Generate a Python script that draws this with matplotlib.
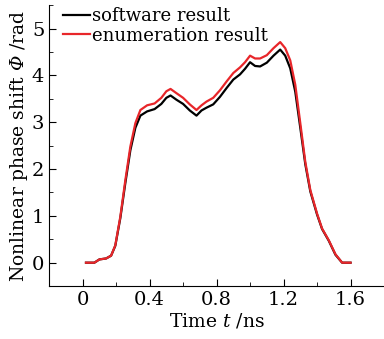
import matplotlib
matplotlib.use("Agg")
import matplotlib.pyplot as plt
from matplotlib.ticker import MultipleLocator

plt.rcParams['font.family'] = ['DejaVu Serif']
# custom mathtext so that a Greek capital can be set in italic (via \mathbf slot)
plt.rcParams['mathtext.fontset'] = 'custom'
plt.rcParams['mathtext.rm'] = 'DejaVu Serif'
plt.rcParams['mathtext.it'] = 'DejaVu Serif:italic'
plt.rcParams['mathtext.bf'] = 'DejaVu Serif:italic'

# time axis (ns)
t = [0.02, 0.07, 0.10, 0.14, 0.17, 0.195, 0.225, 0.255, 0.285, 0.315, 0.345, 0.385,
     0.43, 0.47, 0.50, 0.525, 0.56, 0.60, 0.64, 0.68, 0.71, 0.74, 0.78, 0.82, 0.86,
     0.90, 0.94, 0.97, 1.00, 1.03, 1.06, 1.10, 1.14, 1.18, 1.21, 1.24, 1.27, 1.30,
     1.33, 1.36, 1.40, 1.43, 1.47, 1.51, 1.55, 1.60]

software = [0, 0, 0.07, 0.09, 0.15, 0.36, 0.95, 1.70, 2.40, 2.88, 3.14, 3.23,
            3.28, 3.39, 3.52, 3.57, 3.48, 3.39, 3.25, 3.14, 3.25, 3.31, 3.38, 3.54, 3.73,
            3.91, 4.02, 4.14, 4.28, 4.20, 4.19, 4.27, 4.42, 4.55, 4.42, 4.15, 3.65, 2.88,
            2.10, 1.52, 1.03, 0.72, 0.47, 0.17, 0, 0]

enumeration = [0, 0, 0.07, 0.09, 0.15, 0.37, 0.98, 1.76, 2.48, 2.98, 3.26, 3.36,
               3.40, 3.52, 3.66, 3.71, 3.62, 3.52, 3.38, 3.26, 3.36, 3.44, 3.52, 3.68, 3.87,
               4.05, 4.17, 4.28, 4.42, 4.36, 4.36, 4.43, 4.58, 4.71, 4.58, 4.32, 3.80, 2.98,
               2.15, 1.55, 1.05, 0.73, 0.48, 0.18, 0, 0]

fig = plt.figure(figsize=(3.84, 3.39), dpi=100)
ax = fig.add_axes([0.128, 0.156, 0.872, 0.829])

ax.plot(t, software, color='black', lw=1.6, label='software result')
ax.plot(t, enumeration, color='#e8262a', lw=1.6, label='enumeration result')

ax.set_xlim(-0.2, 1.8)
ax.set_ylim(-0.5, 5.5)
ax.xaxis.set_major_locator(MultipleLocator(0.4))
ax.xaxis.set_minor_locator(MultipleLocator(0.2))
ax.yaxis.set_major_locator(MultipleLocator(1))
ax.yaxis.set_minor_locator(MultipleLocator(0.5))
ax.set_xticks([0, 0.4, 0.8, 1.2, 1.6])
ax.set_xticklabels(['0', '0.4', '0.8', '1.2', '1.6'])

for side in ['top', 'right']:
    ax.spines[side].set_visible(False)
ax.tick_params(which='both', direction='in', labelsize=14)
ax.tick_params(which='major', length=5)
ax.tick_params(which='minor', length=3)

ax.set_xlabel('Time $t$ /ns', fontsize=13.5, labelpad=2)
ax.set_ylabel(r'Nonlinear phase shift $\mathbf{\Phi}$ /rad', fontsize=13.5, labelpad=1)

ax.legend(loc='upper left', bbox_to_anchor=(0.035, 1.0), frameon=False, fontsize=13,
          handlelength=1.5, handletextpad=0.15, labelspacing=0.1,
          borderaxespad=0.0, borderpad=0.1)

fig.savefig('out.png', dpi=100)
